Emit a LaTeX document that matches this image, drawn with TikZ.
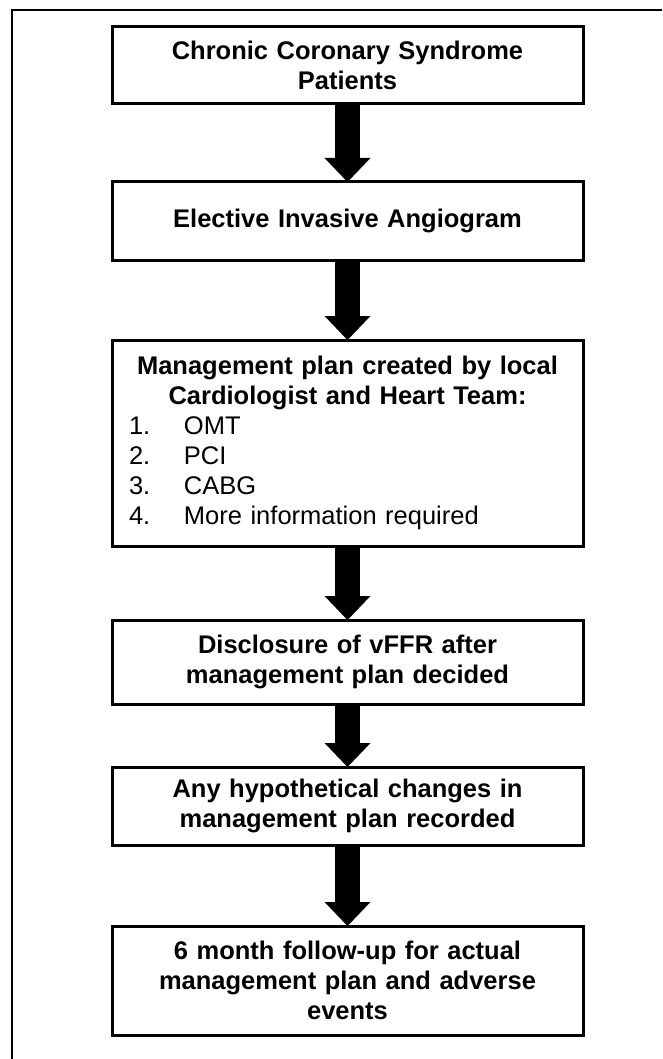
\documentclass[tikz,border=0pt]{standalone}
\usepackage{fontspec}
\setmainfont{Liberation Sans}
\usetikzlibrary{arrows.meta,positioning}

\begin{document}
\begin{tikzpicture}[
  x=1pt, y=1pt,
  stage/.style={rectangle, draw=black, line width=3pt, fill=white, outer sep=0pt, inner xsep=10pt, inner ysep=0pt, text width=451pt, align=center, font=\fontsize{25.5}{30}\selectfont\bfseries},
  bigarrow/.style={line width=25pt, draw=black, -{Triangle[length=24pt, width=46pt, line width=0pt]}}
]
\useasboundingbox (0,0) rectangle (662,-1059);
% outer frame
\draw[line width=2pt] (12,-1059) -- (12,-10) -- (662,-10);
\node[stage, minimum height=77pt, anchor=north] (patients) at (347.5,-27) {Chronic Coronary Syndrome\\Patients};
\node[stage, minimum height=78pt, below=78pt of patients] (angio) {Elective Invasive Angiogram};
\node[stage, minimum height=206pt, below=80pt of angio] (plan) {\makebox[451pt]{Management plan created by local}\\
  \makebox[451pt]{Cardiologist and Heart Team:}\\
  \makebox[451pt][l]{\mdseries\hspace{7pt}\makebox[55pt][l]{1.}OMT}\\
  \makebox[451pt][l]{\mdseries\hspace{7pt}\makebox[55pt][l]{2.}PCI}\\
  \makebox[451pt][l]{\mdseries\hspace{7pt}\makebox[55pt][l]{3.}CABG}\\
  \makebox[451pt][l]{\mdseries\hspace{7pt}\makebox[55pt][l]{4.}More information required}};
\node[stage, minimum height=84pt, below=74pt of plan] (disclose) {Disclosure of vFFR after\\management plan decided};
\node[stage, minimum height=78pt, below=63pt of disclose] (changes) {Any hypothetical changes in\\management plan recorded};
\node[stage, minimum height=109pt, below=81pt of changes] (followup) {6 month follow-up for actual\\management plan and adverse\\events};
\draw[bigarrow] (patients) -- (angio);
\draw[bigarrow] (angio) -- (plan);
\draw[bigarrow] (plan) -- (disclose);
\draw[bigarrow] (disclose) -- (changes);
\draw[bigarrow] (changes) -- (followup);
\end{tikzpicture}
\end{document}
